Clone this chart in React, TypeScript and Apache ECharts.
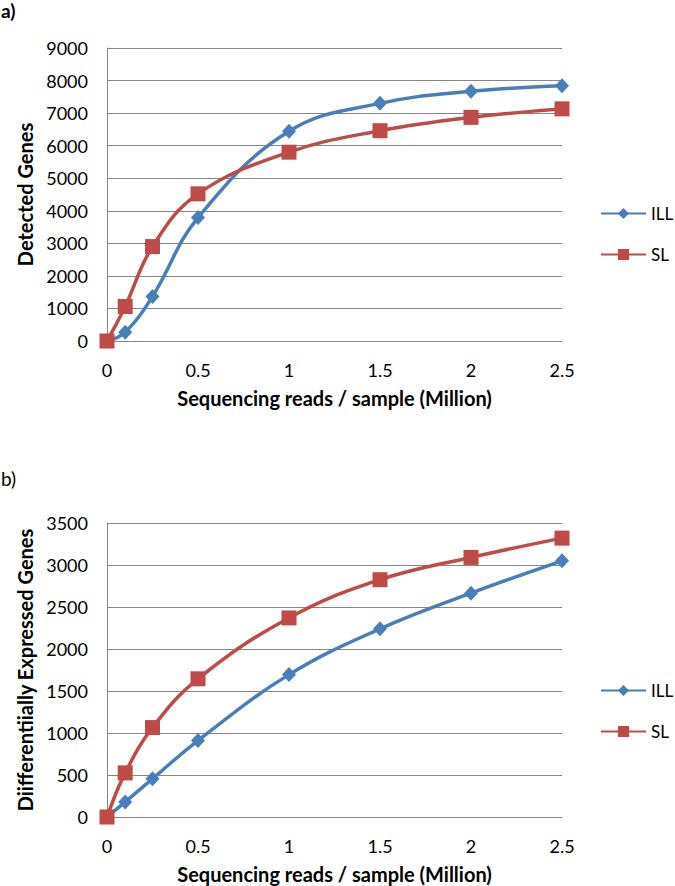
import React, { useEffect, useRef } from "react";
import * as echarts from "echarts";

const xValues = [0, 0.1, 0.25, 0.5, 1, 1.5, 2, 2.5];
const detectedILL = [0, 270, 1370, 3790, 6440, 7300, 7670, 7840];
const detectedSL = [0, 1060, 2900, 4520, 5800, 6460, 6870, 7130];
const degILL = [0, 180, 455, 910, 1695, 2240, 2665, 3050];
const degSL = [0, 525, 1065, 1645, 2370, 2825, 3090, 3320];
const seriesNames = ["ILL", "SL"];
const xTitle = "Sequencing reads / sample (Million)";
const yTitleA = "Detected Genes";
const yTitleB = "Diifferentiially Expressed Genes";

const BLUE = "#4A7EBB";
const RED = "#BE4B48";
const GRID = "#878787";
const FONT = "Lato";

const pairs = (ys: number[]) => xValues.map((x, i) => [x, ys[i]]);

export default function App() {
  const ref = useRef<HTMLDivElement>(null);
  useEffect(() => {
    document.body.style.margin = "0";
    const chart = echarts.init(ref.current!, null, { renderer: "svg" });
    const xAxisBase = (gridIndex: number) => ({
      type: "value",
      gridIndex,
      min: 0,
      max: 2.5,
      interval: 0.5,
      name: xTitle,
      nameLocation: "middle",
      nameGap: 47,
      nameTextStyle: { fontFamily: FONT, fontSize: 20, fontWeight: "bold", color: "#000" },
      axisLine: { show: true, lineStyle: { color: GRID, width: 1 } },
      axisTick: { show: false },
      splitLine: { show: false },
      axisLabel: { fontFamily: FONT, fontSize: 18, color: "#000", margin: 20, formatter: (v: number) => String(v) },
    });
    const yAxisBase = (gridIndex: number, max: number, interval: number, name: string) => ({
      type: "value",
      gridIndex,
      min: 0,
      max,
      interval,
      name,
      nameLocation: "middle",
      nameGap: 66,
      nameTextStyle: { fontFamily: FONT, fontSize: 20, fontWeight: "bold", color: "#000" },
      axisLine: { show: true, lineStyle: { color: GRID, width: 1 } },
      axisTick: { show: false },
      splitLine: { show: true, lineStyle: { color: GRID, width: 1 } },
      axisLabel: { fontFamily: FONT, fontSize: 18, color: "#000", margin: 19, formatter: (v: number) => String(v) },
    });
    const mk = (name: string, ys: number[], idx: number) => ({
      type: "line",
      name,
      xAxisIndex: idx,
      yAxisIndex: idx,
      data: pairs(ys),
      smooth: 0.4,
      symbol: name === "ILL" ? "diamond" : "rect",
      symbolSize: name === "ILL" ? [14, 15] : 15,
      lineStyle: { width: 3.5, color: name === "ILL" ? BLUE : RED },
      itemStyle: { color: name === "ILL" ? BLUE : RED },
      z: name === "ILL" ? 2 : 3,
    });
    const legendBase = (top: number) => ({
      orient: "vertical",
      left: 600,
      top,
      padding: 0,
      itemWidth: 45,
      itemHeight: 14,
      itemGap: 24,
      data: seriesNames,
      textStyle: { fontFamily: FONT, fontSize: 17, color: "#000" },
      selectedMode: false,
    });
    chart.setOption({
      animation: false,
      backgroundColor: "#fff",
      grid: [
        { left: 107, right: 113, top: 48, height: 293 },
        { left: 107, right: 113, top: 523, height: 294 },
      ],
      xAxis: [xAxisBase(0), xAxisBase(1)],
      yAxis: [yAxisBase(0, 9000, 1000, yTitleA), yAxisBase(1, 3500, 500, yTitleB)],
      legend: [legendBase(205), legendBase(682)],
      series: [
        mk("ILL", detectedILL, 0),
        mk("SL", detectedSL, 0),
        mk("ILL", degILL, 1),
        mk("SL", degSL, 1),
      ],
      graphic: [
        { type: "text", left: 1, top: 1, style: { text: "a)", font: `bold 19px ${FONT}`, fill: "#000" } },
        { type: "text", left: 1, top: 469, style: { text: "b)", font: `19px ${FONT}`, fill: "#000" } },
      ],
    });
    return () => chart.dispose();
  }, []);
  return <div ref={ref} style={{ width: 675, height: 886 }} />;
}
